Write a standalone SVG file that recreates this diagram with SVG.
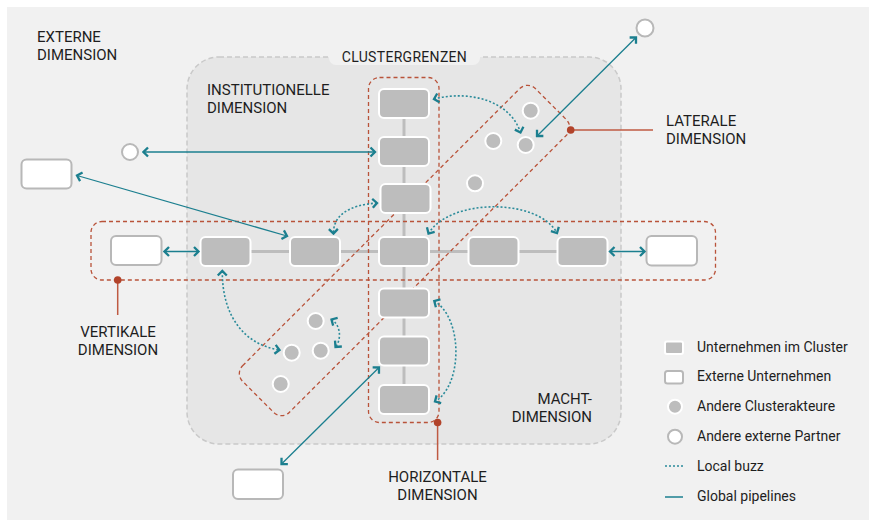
<svg xmlns="http://www.w3.org/2000/svg" width="869" height="520" viewBox="0 0 869 520">
<style>
text{font-family:Roboto,"Liberation Sans",sans-serif;fill:#1e1e1e}
.lbl{font-size:15px}
.leg{font-size:14px}
.cf{fill:#bdbdbd;stroke:#ffffff;stroke-width:2}
.ef{fill:#ffffff;stroke:#b8b8b8;stroke-width:2}
.ca{fill:#bdbdbd;stroke:#ffffff;stroke-width:2}
.ep{fill:#ffffff;stroke:#b8b8b8;stroke-width:2}
.dim{fill:none;stroke:#b9533a;stroke-width:1.3;stroke-dasharray:4 3}
.lead{stroke:#bf5a42;stroke-width:1.5;fill:none}
.dot{fill:#b2432a}
.pipe{fill:none;stroke:#1b7f8f;stroke-width:1.3;marker-start:url(#ah);marker-end:url(#ah)}
.buzz{fill:none;stroke:#2a8b9a;stroke-width:1.6;stroke-dasharray:2 2;marker-start:url(#ah);marker-end:url(#ah)}
.gl{stroke:#bdbdbd;stroke-width:3}
</style>
<defs>
<marker id="ah" viewBox="-8 -7 10 14" markerWidth="10" markerHeight="14" refX="0" refY="0" orient="auto-start-reverse" markerUnits="userSpaceOnUse">
<path d="M-4.5,-4.5 L0,0 L-4.5,4.5" fill="none" stroke="#1b7f8f" stroke-width="2.3" stroke-dasharray="none"/>
</marker>
</defs>
<rect x="7" y="7" width="862" height="513" fill="#f1f1f1"/>
<g id="cluster">
<rect x="187" y="57" width="434" height="387" rx="32" fill="#e6e6e6" stroke="#c9c9c9" stroke-width="1.5" stroke-dasharray="5 3"/>
<path d="M329,50 H480 V58 a7,7 0 0 1 -7,7 H336 a7,7 0 0 1 -7,-7 Z" fill="#f1f1f1"/>
<text x="404.5" y="61.7" text-anchor="middle" font-size="14" letter-spacing="0.3">CLUSTERGRENZEN</text>
</g>
<g id="backbone">
<line class="gl" x1="404" y1="104" x2="404" y2="400"/>
<line class="gl" x1="225" y1="251.5" x2="582" y2="251.5"/>
</g>
<g id="dimensions">
<rect class="dim" x="91" y="221.5" width="624.5" height="58.5" rx="11"/>
<rect class="dim" x="368.5" y="77.5" width="70.5" height="345" rx="11"/>
<rect class="dim" x="-207" y="-33" width="414" height="66" rx="11" transform="translate(404.5 250.5) rotate(-45)"/>
</g>
<g id="companies">
<rect class="cf" x="379" y="89" width="50" height="29" rx="5"/>
<rect class="cf" x="379" y="137" width="50" height="29" rx="5"/>
<rect class="cf" x="380.5" y="184" width="50" height="29" rx="5"/>
<rect class="cf" x="379" y="237" width="50" height="29" rx="5"/>
<rect class="cf" x="379" y="288.5" width="50" height="29" rx="5"/>
<rect class="cf" x="379" y="336.5" width="50" height="29" rx="5"/>
<rect class="cf" x="379" y="385" width="50" height="29" rx="5"/>
<rect class="cf" x="200.5" y="237" width="50" height="29" rx="5"/>
<rect class="cf" x="290" y="237" width="50" height="29" rx="5"/>
<rect class="cf" x="468.5" y="237" width="50" height="29" rx="5"/>
<rect class="cf" x="557.5" y="237" width="50" height="29" rx="5"/>
</g>
<g id="external-companies">
<rect class="ef" x="111" y="236" width="50.5" height="29" rx="5"/>
<rect class="ef" x="646.5" y="236" width="50.5" height="29.5" rx="5"/>
<rect class="ef" x="21.5" y="159.5" width="50" height="29" rx="5"/>
<rect class="ef" x="233" y="469.5" width="50" height="29.5" rx="5"/>
</g>
<g id="actors">
<circle class="ca" cx="530.7" cy="110.7" r="8"/>
<circle class="ca" cx="493.3" cy="141" r="8"/>
<circle class="ca" cx="525.7" cy="145" r="8"/>
<circle class="ca" cx="475" cy="183.3" r="8"/>
<circle class="ca" cx="315.7" cy="321" r="8"/>
<circle class="ca" cx="291.7" cy="352.7" r="8"/>
<circle class="ca" cx="320.7" cy="350.7" r="8"/>
<circle class="ca" cx="280.7" cy="384" r="8"/>
</g>
<g id="partners">
<circle class="ep" cx="645" cy="28" r="8.5"/>
<circle class="ep" cx="130" cy="152" r="8"/>
</g>
<g id="connectors">
<line class="pipe" x1="143.5" y1="152" x2="375" y2="152"/>
<line class="pipe" x1="77" y1="175.5" x2="287" y2="236"/>
<line class="pipe" x1="636" y1="37.5" x2="537" y2="136"/>
<line class="pipe" x1="281.5" y1="464" x2="379" y2="367.5"/>
<line class="pipe" x1="164.5" y1="251.5" x2="198.5" y2="251.5"/>
<line class="pipe" x1="610" y1="251.5" x2="644.5" y2="251.5"/>
<path class="buzz" d="M434,99 C468,90 510,100 520.5,132.5"/>
<path class="buzz" d="M377,203 C348,205 333,216 333.5,233.5"/>
<path class="buzz" d="M428.5,233.5 C450,198 538,198 557,233"/>
<path class="buzz" d="M222.3,271 C222,318 246,345 279.5,350"/>
<path class="buzz" d="M331.5,319.5 C341,325 341.5,340 335.5,347"/>
<path class="buzz" d="M434.3,301 C463,318 463,385 435,401.5"/>
</g>
<g id="leaders">
<line class="lead" x1="570.7" y1="130" x2="653" y2="130"/>
<circle class="dot" cx="570.7" cy="130" r="3.8"/>
<line class="lead" x1="117.7" y1="280" x2="117.7" y2="315"/>
<circle class="dot" cx="117.7" cy="280" r="3.8"/>
<line class="lead" x1="437.6" y1="422.5" x2="437.6" y2="460"/>
<circle class="dot" cx="437.6" cy="422.5" r="3.8"/>
</g>
<g id="labels">
<text class="lbl" x="37" y="41.5">EXTERNE</text>
<text class="lbl" x="37" y="59.5">DIMENSION</text>
<text class="lbl" x="207" y="95">INSTITUTIONELLE</text>
<text class="lbl" x="207" y="113">DIMENSION</text>
<text class="lbl" x="666" y="126">LATERALE</text>
<text class="lbl" x="666" y="144">DIMENSION</text>
<text class="lbl" x="118" y="337" text-anchor="middle">VERTIKALE</text>
<text class="lbl" x="118" y="355" text-anchor="middle">DIMENSION</text>
<text class="lbl" x="437.5" y="481.5" text-anchor="middle">HORIZONTALE</text>
<text class="lbl" x="437.5" y="500" text-anchor="middle">DIMENSION</text>
<text class="lbl" x="592" y="403.5" text-anchor="end">MACHT-</text>
<text class="lbl" x="592" y="421.5" text-anchor="end">DIMENSION</text>
</g>
<g id="legend">
<rect class="cf" x="665" y="341.5" width="18" height="12.5" rx="2"/>
<text class="leg" x="697" y="352">Unternehmen im Cluster</text>
<rect class="ef" x="665" y="371" width="18" height="12.5" rx="2.5"/>
<text class="leg" x="697" y="381">Externe Unternehmen</text>
<circle class="ca" cx="675" cy="406.7" r="7"/>
<text class="leg" x="697" y="411">Andere Clusterakteure</text>
<circle class="ep" cx="675" cy="436.7" r="7"/>
<text class="leg" x="697" y="440.5">Andere externe Partner</text>
<line x1="665" y1="466" x2="683" y2="466" stroke="#2a8b9a" stroke-width="1.6" stroke-dasharray="2 2"/>
<text class="leg" x="697" y="470.5">Local buzz</text>
<line x1="665" y1="497" x2="683" y2="497" stroke="#1b7f8f" stroke-width="1.5"/>
<text class="leg" x="697" y="501">Global pipelines</text>
</g>
</svg>
